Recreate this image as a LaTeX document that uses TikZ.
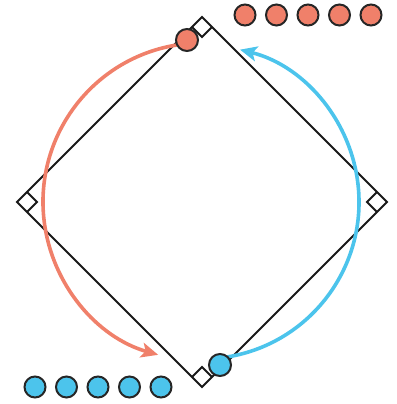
\documentclass[tikz,border=0pt]{standalone}
\usetikzlibrary{arrows.meta,calc}
\definecolor{salmon}{RGB}{240,128,106}
\definecolor{skyblue}{RGB}{76,196,236}
\begin{document}
\begin{tikzpicture}[
    x=1pt, y=1pt,
    edge/.style={
      draw=black!90,
      line width=2pt,
      line join=miter
    },
    token/.style={
      circle,
      draw=black!85,
      line width=2pt,
      minimum size=21pt,
      inner sep=0pt
    },
    move/.style={
      -{Stealth[length=17pt,width=15pt,inset=4pt]},
      line width=3.6pt
    }
  ]
    \useasboundingbox (0,0) rectangle (396,404);
    \coordinate (c) at (202,202);
    \coordinate (top) at (202,387);
    \coordinate (right) at (387,202);
    \coordinate (bottom) at (202,17);
    \coordinate (left) at (17,202);

    \draw[edge] (top) -- (right) -- (bottom) -- (left) -- cycle;
    % right angle marks
    \foreach \a in {0,90,180,270}
      \draw[edge, line width=1.8pt, rotate around={\a:(c)}] (192,377) -- (202,367) -- (212,377);

    % moves
    \coordinate (os) at ($(c)+(97:159)$);
    \coordinate (bs) at ($(c)+(-82:157)$);
    \draw[move, salmon] (os) arc[start angle=97, end angle=254, radius=159];
    \draw[move, skyblue] (bs) arc[start angle=-82, end angle=76, radius=157];

    \node[token, fill=salmon, minimum size=22pt] (red) at (187,364) {};
    \node[token, fill=skyblue, minimum size=22pt] (blue) at (220,39) {};
    \foreach \i in {0,...,4} {
      \node[token, fill=salmon] (r\i) at (245+31.5*\i,389) {};
      \node[token, fill=skyblue] (b\i) at (35+31.5*\i,17) {};
    }
  \end{tikzpicture}
\end{document}
